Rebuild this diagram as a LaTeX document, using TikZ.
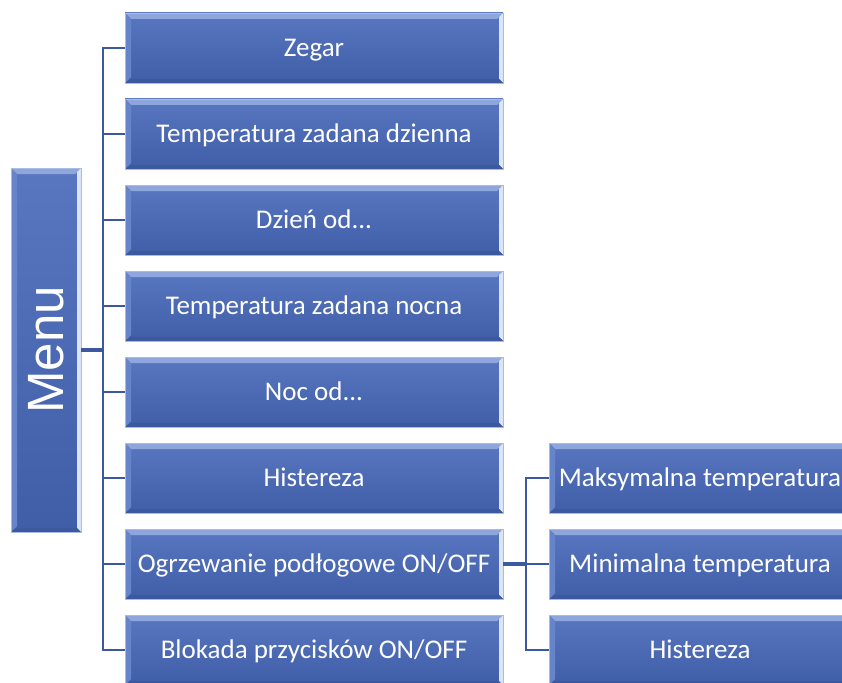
\documentclass[tikz,border=0pt]{standalone}
\usepackage{fontspec}
\usepackage{graphicx}
\setmainfont{Carlito}
\newfontfamily\menufont{Liberation Sans}
\definecolor{boxtop}{HTML}{5977C0}
\definecolor{boxbot}{HTML}{405DA8}
\definecolor{boxedge}{HTML}{A9BBDF}
\definecolor{bevtop}{HTML}{8EA6DC}
\definecolor{bevleft}{HTML}{6684CA}
\definecolor{bevright}{HTML}{DCE5F5}
\definecolor{bevbot}{HTML}{3C589F}
\definecolor{conncol}{HTML}{3B58A1}
\tikzset{
  bev/.style={path picture={
    \path (path picture bounding box.south west) coordinate (@sw)
          (path picture bounding box.north east) coordinate (@ne)
          (path picture bounding box.north west) coordinate (@nw)
          (path picture bounding box.south east) coordinate (@se);
    \fill[bevtop] (@nw) -- (@ne) -- ([shift={(-6pt,-6pt)}]@ne) -- ([shift={(6pt,-6pt)}]@nw) -- cycle;
    \fill[bevleft] (@nw) -- ([shift={(6pt,-6pt)}]@nw) -- ([shift={(6pt,6pt)}]@sw) -- (@sw) -- cycle;
    \fill[bevright] (@ne) -- ([shift={(-4pt,-4pt)}]@ne) -- ([shift={(-4pt,4pt)}]@se) -- (@se) -- cycle;
    \fill[bevbot] (@sw) -- ([shift={(6pt,4pt)}]@sw) -- ([shift={(-4pt,4pt)}]@se) -- (@se) -- cycle;
  }},
  box/.style={bev, top color=boxtop, bottom color=boxbot, draw=boxedge, line width=0.8pt,
    inner sep=0pt, outer sep=0pt, text=white},
  lbl/.style={font=\fontsize{27}{30}\selectfont, text height=17.5pt, text depth=0pt},
  mainbox/.style={box, lbl, minimum width=378pt, minimum height=70pt},
  subbox/.style={box, lbl, minimum width=302pt, minimum height=70pt},
  conn/.style={draw=conncol, line width=2.2pt},
  thickconn/.style={draw=conncol, line width=4.5pt},
}
\begin{document}
\begin{tikzpicture}[x=1pt,y=-1pt]
\useasboundingbox (0,0) rectangle (842,682);
\clip (0,0) rectangle (842,682);
\node[box, minimum width=70pt, minimum height=364pt] (menu) at (46,350)
  {\menufont\fontsize{51}{55}\selectfont\rotatebox{90}{Menu}};
\node[mainbox] (b1) at (314,48) {Zegar};
\node[mainbox] (b2) at (314,134) {Temperatura zadana dzienna};
\node[mainbox] (b3) at (314,220) {Dzień od...};
\node[mainbox] (b4) at (314,306) {Temperatura zadana nocna};
\node[mainbox] (b5) at (314,392) {Noc od...};
\node[mainbox] (b6) at (314,478) {Histereza};
\node[mainbox] (b7) at (314,564) {Ogrzewanie podłogowe ON/OFF};
\node[mainbox] (b8) at (314,650) {Blokada przycisków ON/OFF};
\node[subbox] (s1) at (700,478) {Maksymalna temperatura};
\node[subbox] (s2) at (700,564) {Minimalna temperatura};
\node[subbox] (s3) at (700,650) {Histereza};
\coordinate (tm) at (103,350);
\coordinate (ts) at (526,564);
\draw[thickconn] (menu.east) -- (tm);
\foreach \b in {b1,b2,b3,b4,b5,b6,b7,b8}{\draw[conn] (tm) |- (\b.west);}
\draw[thickconn] (b7.east) -- (ts);
\foreach \s in {s1,s2,s3}{\draw[conn] (ts) |- (\s.west);}
\end{tikzpicture}
\end{document}
